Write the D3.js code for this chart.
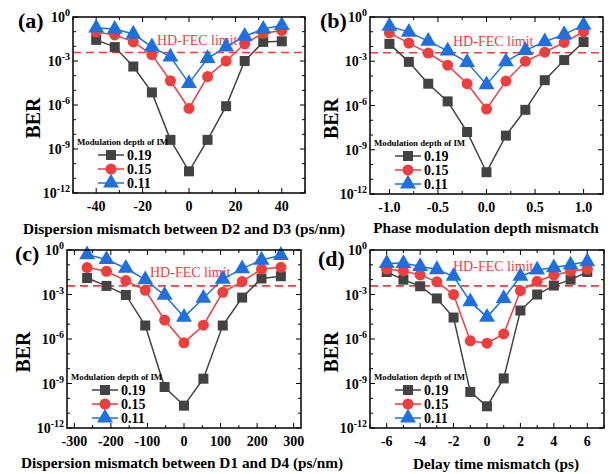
<!DOCTYPE html>
<html>
<head>
<meta charset="utf-8">
<script src="https://cdn.jsdelivr.net/npm/d3@7"></script>
<style>
  body { margin: 0; background: #fff; }
  svg { font-family: 'Liberation Serif', 'Times New Roman', serif; }
</style>
</head>
<body>
<div id="chart"></div>
<script>
const seriesNames = ['0.19', '0.15', '0.11']
const legendTitle = 'Modulation depth of IM'
const fecLimit = 3.8e-3
const yTickExps = [0, -3, -6, -9, -12]

// (a) dispersion mismatch D2/D3
const xA = [-40, -32, -24, -16, -8, 0, 8, 16, 24, 32, 40]
const berA19 = [2.75e-2, 8.9e-3, 4.2e-4, 7.2e-6, 4.2e-9, 3.0e-11, 4.2e-9, 8.3e-7, 1.0e-3, 2.0e-2, 2.2e-2]
const berA15 = [9.5e-2, 6.0e-2, 2.0e-2, 2.7e-3, 4.5e-5, 5.8e-7, 8.7e-5, 1.0e-3, 1.5e-2, 7.8e-2, 1.2e-1]
const berA11 = [1.8e-1, 1.5e-1, 6.9e-2, 9.3e-3, 1.9e-3, 3.0e-5, 1.5e-3, 9.3e-3, 4.9e-2, 1.5e-1, 2.7e-1]

// (b) phase modulation depth mismatch
const xB = [-1.0, -0.8, -0.6, -0.4, -0.2, 0, 0.2, 0.4, 0.6, 0.8, 1.0]
const berB19 = [1.5e-2, 9.1e-4, 3.0e-5, 1.9e-6, 1.6e-8, 3.0e-11, 9.1e-9, 5.1e-7, 5.2e-5, 1.2e-3, 2.0e-2]
const berB15 = [8.5e-2, 1.7e-2, 3.6e-3, 5.4e-4, 3.0e-5, 5.8e-7, 4.5e-5, 1.0e-3, 4.1e-3, 1.9e-2, 1.0e-1]
const berB11 = [2.4e-1, 9.5e-2, 2.3e-2, 5.0e-3, 8.5e-4, 2.6e-5, 9.3e-4, 5.5e-3, 2.1e-2, 6.6e-2, 2.8e-1]

// (c) dispersion mismatch D1/D4
const xC = [-265, -212, -159, -106, -53, 0, 53, 106, 159, 212, 265]
const berC19 = [1.3e-2, 3.8e-3, 9.3e-4, 8.1e-6, 5.8e-10, 3.2e-11, 2.1e-9, 8.1e-6, 6.2e-4, 1.2e-2, 1.7e-2]
const berC15 = [6.5e-2, 3.7e-2, 8.7e-3, 1.9e-3, 1.9e-5, 5.5e-7, 8.5e-6, 1.4e-3, 7.4e-3, 5.2e-2, 6.8e-2]
const berC11 = [4.9e-1, 2.3e-1, 5.9e-2, 1.0e-2, 8.9e-4, 3.0e-5, 5.6e-4, 1.1e-2, 5.5e-2, 2.1e-1, 4.4e-1]

// (d) delay time mismatch
const xD = [-6, -5, -4, -3, -2, -1, 0, 1, 2, 3, 4, 5, 6]
const berD19 = [3.3e-2, 1.0e-2, 3.6e-3, 5.4e-4, 2.8e-5, 2.7e-10, 2.9e-11, 2.2e-9, 8.3e-5, 1.0e-3, 4.0e-3, 1.0e-2, 3.3e-2]
const berD15 = [5.2e-2, 3.9e-2, 2.1e-2, 7.1e-3, 1.0e-3, 7.6e-7, 5.2e-7, 2.2e-6, 1.8e-3, 7.8e-3, 2.0e-2, 3.7e-2, 5.2e-2]
const berD11 = [1.26e-1, 1.26e-1, 7.9e-2, 4.8e-2, 1.7e-2, 3.3e-4, 3.0e-5, 5.4e-4, 1.7e-2, 4.5e-2, 6.5e-2, 1.0e-1, 1.66e-1]

const colors = ['#434343', '#f03d3d', '#1f6fdf']
const symbols = [d3.symbolSquare, d3.symbolCircle, d3.symbolTriangle]
const symSize = [100, 95, 110]

const panels = [
  { tag: '(a)', x: xA, ys: [berA19, berA15, berA11], domain: [-50, 50], ticks: [-40, -20, 0, 20, 40], minor: 10, fmt: d3.format('d'),
    box: { l: 73, r: 305, t: 17, b: 193 }, title: 'Dispersion mismatch between D2 and D3 (ps/nm)', titleX: 184, titleY: 234,
    tagX: 18, tagY: 28, berX: 33, fecX: 157, fecY: 45 },
  { tag: '(b)', x: xB, ys: [berB19, berB15, berB11], domain: [-1.2, 1.2], ticks: [-1, -0.5, 0, 0.5, 1], minor: 0.25, fmt: d3.format('.1f'),
    box: { l: 370, r: 603, t: 17, b: 194 }, title: 'Phase modulation depth mismatch', titleX: 486, titleY: 233,
    tagX: 320, tagY: 28, berX: 331, fecX: 453, fecY: 46 },
  { tag: '(c)', x: xC, ys: [berC19, berC15, berC11], domain: [-320, 320], ticks: [-300, -200, -100, 0, 100, 200, 300], minor: 50, fmt: d3.format('d'),
    box: { l: 67, r: 301, t: 250, b: 428 }, title: 'Dispersion mismatch between D1 and D4 (ps/nm)', titleX: 182, titleY: 468,
    tagX: 15, tagY: 261, berX: 23, fecX: 150, fecY: 277 },
  { tag: '(d)', x: xD, ys: [berD19, berD15, berD11], domain: [-7, 7], ticks: [-6, -4, -2, 0, 2, 4, 6], minor: 1, fmt: d3.format('d'),
    box: { l: 370, r: 604, t: 250, b: 428 }, title: 'Delay time mismatch (ps)', titleX: 496, titleY: 469,
    tagX: 318, tagY: 266, berX: 331, fecX: 453, fecY: 271 }
]

const svg = d3.select('#chart').append('svg')
  .attr('width', 610)
  .attr('height', 474)

panels.forEach(p => {
  const { l, r, t, b } = p.box
  const x = d3.scaleLinear().domain(p.domain).range([l, r])
  const y = d3.scaleLog().domain([1e-12, 1]).range([b, t])
  const g = svg.append('g')

  // minor + major ticks, inward on all four sides
  const xMinor = d3.range(Math.ceil(p.domain[0] / p.minor) * p.minor, p.domain[1] + 1e-9, p.minor)
  const yMinor = d3.range(-12, 1).map(e => Math.pow(10, e))
  const tickG = g.append('g').attr('stroke', '#000').attr('stroke-width', 1)
  xMinor.forEach(v => {
    const isMajor = p.ticks.some(tv => Math.abs(tv - v) < 1e-9)
    const len = isMajor ? 5 : 3
    tickG.append('line').attr('x1', x(v)).attr('x2', x(v)).attr('y1', b).attr('y2', b - len)
    tickG.append('line').attr('x1', x(v)).attr('x2', x(v)).attr('y1', t).attr('y2', t + len)
  })
  yMinor.forEach(v => {
    const isMajor = Math.round(Math.log10(v)) % 3 === 0
    const len = isMajor ? 5 : 3
    tickG.append('line').attr('x1', l).attr('x2', l + len).attr('y1', y(v)).attr('y2', y(v))
    tickG.append('line').attr('x1', r).attr('x2', r - len).attr('y1', y(v)).attr('y2', y(v))
  })

  // HD-FEC limit
  g.append('line')
    .attr('x1', l).attr('x2', r)
    .attr('y1', y(fecLimit)).attr('y2', y(fecLimit))
    .attr('stroke', '#f03d3d')
    .attr('stroke-width', 1.6)
    .attr('stroke-dasharray', '8,5')
  g.append('text')
    .attr('x', p.fecX).attr('y', p.fecY)
    .attr('fill', '#f03d3d')
    .attr('font-size', 14)
    .text('HD-FEC limit')

  // series
  const line = d3.line().x(d => x(d[0])).y(d => y(d[1]))
  p.ys.forEach((vals, i) => {
    const pts = p.x.map((xv, k) => [xv, vals[k]])
    g.append('path')
      .datum(pts)
      .attr('fill', 'none')
      .attr('stroke', colors[i])
      .attr('stroke-width', 1.5)
      .attr('d', line)
    g.selectAll(null)
      .data(pts).enter()
      .append('path')
      .attr('transform', d => `translate(${x(d[0])},${y(d[1])})`)
      .attr('d', d3.symbol(symbols[i], symSize[i]))
      .attr('fill', colors[i])
  })

  // frame
  g.append('rect')
    .attr('x', l).attr('y', t)
    .attr('width', r - l).attr('height', b - t)
    .attr('fill', 'none')
    .attr('stroke', '#000')
    .attr('stroke-width', 1.5)

  // x tick labels
  g.selectAll(null)
    .data(p.ticks).enter()
    .append('text')
    .attr('x', d => x(d))
    .attr('y', b + 18)
    .attr('text-anchor', 'middle')
    .attr('font-size', 14)
    .attr('font-weight', 'bold')
    .text(d => p.fmt(d).replace('−', '-'))

  // y tick labels 10^n
  yTickExps.forEach(e => {
    const tx = g.append('text')
      .attr('x', l - 3)
      .attr('y', y(Math.pow(10, e)) + 5)
      .attr('text-anchor', 'end')
      .attr('font-size', 14)
      .attr('font-weight', 'bold')
    tx.append('tspan').text('10')
    tx.append('tspan').attr('dy', -6).attr('font-size', 10).text(e)
  })

  // axis titles
  g.append('text')
    .attr('x', p.titleX).attr('y', p.titleY)
    .attr('text-anchor', 'middle')
    .attr('font-size', 15.3)
    .attr('font-weight', 'bold')
    .text(p.title)
  g.append('text')
    .attr('transform', `translate(${p.berX + 7},${(t + b) / 2 + 13}) rotate(-90)`)
    .attr('text-anchor', 'middle')
    .attr('font-size', 20)
    .attr('font-weight', 'bold')
    .text('BER')
  g.append('text')
    .attr('x', p.tagX).attr('y', p.tagY)
    .attr('font-size', 22)
    .attr('font-weight', 'bold')
    .text(p.tag)

  // legend
  const lg = g.append('g')
  lg.append('text')
    .attr('x', l + 4).attr('y', b - 48)
    .attr('font-size', 8.8)
    .attr('font-weight', 'bold')
    .text(legendTitle)
  seriesNames.forEach((name, i) => {
    const ly = b - 38 + i * 14
    lg.append('line')
      .attr('x1', l + 25).attr('x2', l + 51)
      .attr('y1', ly).attr('y2', ly)
      .attr('stroke', colors[i])
      .attr('stroke-width', 1.5)
    lg.append('path')
      .attr('transform', `translate(${l + 38},${ly})`)
      .attr('d', d3.symbol(symbols[i], symSize[i]))
      .attr('fill', colors[i])
    lg.append('text')
      .attr('x', l + 54).attr('y', ly + 5)
      .attr('font-size', 14)
      .attr('font-weight', 'bold')
      .text(name)
  })
})
</script>
</body>
</html>
